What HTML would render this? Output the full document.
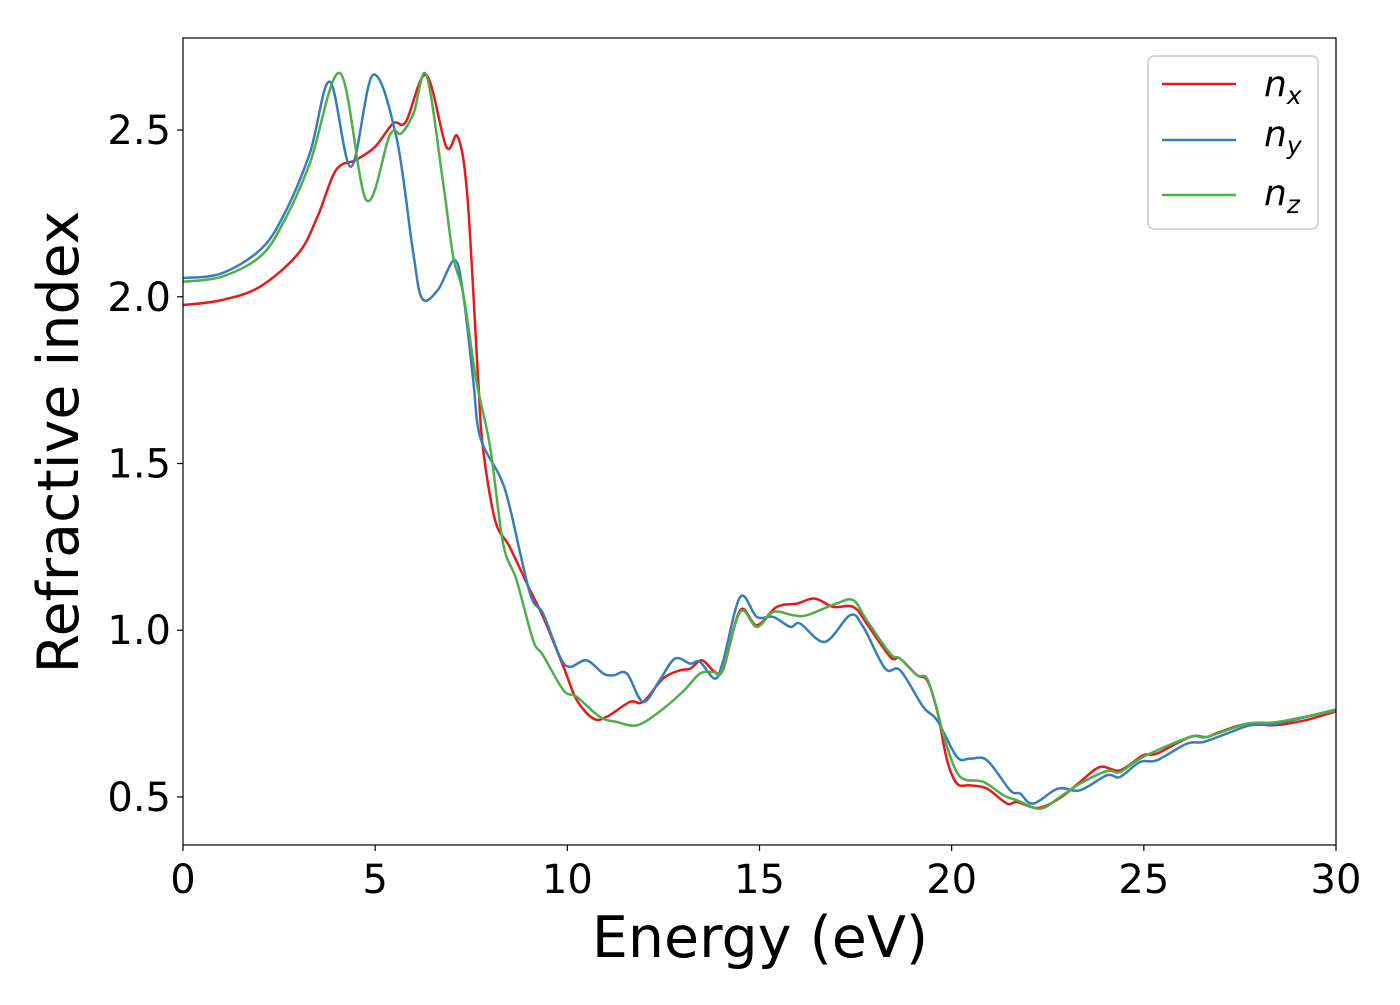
<!DOCTYPE html>
<html><head><meta charset="utf-8"><style>
body{margin:0;background:#fff;}
svg text{font-family:"DejaVu Sans","Liberation Sans",sans-serif;fill:#000;}
</style></head><body>
<svg id="chart" width="1400" height="1000" xmlns="http://www.w3.org/2000/svg">
<rect x="0" y="0" width="1400" height="1000" fill="#fff"/>
<g id="plot"></g>
<g id="axes"></g>
<text x="760" y="957" font-size="57" text-anchor="middle">Energy (eV)</text>
<text transform="translate(78,442) rotate(-90)" font-size="57" text-anchor="middle">Refractive index</text>
<g>
<rect x="1148" y="56" width="170" height="173" rx="6" fill="#fff" stroke="#ccc" stroke-width="1.5"/>
<g><line x1="1162" y1="84" x2="1236" y2="84" stroke="#e41a1c" stroke-width="2.5"/><text x="1264" y="96" font-size="36" font-style="italic">n<tspan font-size="25" dy="8">x</tspan></text></g>
<g><line x1="1162" y1="140" x2="1236" y2="140" stroke="#377eb8" stroke-width="2.5"/><text x="1264" y="146" font-size="36" font-style="italic">n<tspan font-size="25" dy="8">y</tspan></text></g>
<g><line x1="1162" y1="195" x2="1236" y2="195" stroke="#4daf4a" stroke-width="2.5"/><text x="1264" y="205" font-size="36" font-style="italic">n<tspan font-size="25" dy="8">z</tspan></text></g>
</g>
</svg>
<script>
const xTicks=[0,5,10,15,20,25,30];
const yTicks=[0.5,1.0,1.5,2.0,2.5];
const yTickLabels=["0.5","1.0","1.5","2.0","2.5"];
const nxE=[0,1,2,3,3.5,3.98,4.5,5,5.47,5.8,6.33,6.85,7.15,7.4,7.68,7.8,8.12,8.5,9.03,9.37,9.9,10.25,10.68,11.02,11.63,11.97,12.49,12.93,13.2,13.5,13.84,14.06,14.5,14.93,15.45,15.97,16.44,16.92,17.44,17.79,18.4,18.66,19.1,19.36,19.62,19.88,20.14,20.48,20.92,21.44,21.7,22.25,22.82,23.34,23.86,24.38,24.98,25.34,26.2,26.64,26.98,27.7,28.37,29.2,30];
const nxN=[1.975,1.99,2.03,2.13,2.24,2.38,2.41,2.45,2.52,2.525,2.665,2.45,2.48,2.3,1.75,1.55,1.33,1.25,1.12,1.04,0.89,0.79,0.735,0.74,0.785,0.785,0.855,0.88,0.885,0.91,0.875,0.885,1.06,1.015,1.07,1.08,1.095,1.07,1.07,1.02,0.92,0.915,0.865,0.85,0.76,0.61,0.54,0.535,0.525,0.48,0.485,0.467,0.497,0.545,0.59,0.58,0.625,0.63,0.68,0.68,0.695,0.72,0.715,0.73,0.757];
const nyE=[0,1,2,2.6,3.3,3.82,4.37,4.94,5.55,5.98,6.22,6.63,7.07,7.3,7.55,7.73,8.25,8.5,9.03,9.37,9.81,10.07,10.5,10.94,11.2,11.55,11.97,12.4,12.8,13.2,13.45,13.84,14.06,14.5,14.93,15.36,15.8,16.06,16.7,17.36,17.7,18.27,18.66,19.26,19.62,20.14,20.48,20.92,21.52,21.78,22.12,22.77,23.34,24.04,24.38,24.9,25.34,26.12,26.55,27.16,27.77,28.46,30];
const nyN=[2.056,2.07,2.14,2.24,2.43,2.645,2.39,2.665,2.48,2.14,1.995,2.02,2.11,2.0,1.75,1.58,1.46,1.37,1.11,1.05,0.92,0.89,0.91,0.87,0.865,0.87,0.785,0.85,0.915,0.9,0.905,0.855,0.91,1.1,1.04,1.04,1.01,1.02,0.965,1.045,1.01,0.885,0.88,0.77,0.73,0.62,0.615,0.61,0.52,0.51,0.48,0.525,0.52,0.565,0.56,0.605,0.61,0.66,0.665,0.69,0.715,0.72,0.762];
const nzE=[0,1,2,2.6,3.3,4.09,4.77,5.38,5.68,6.0,6.33,6.77,7.03,7.29,7.63,7.99,8.33,8.68,9.11,9.37,9.9,10.25,10.85,11.28,11.8,12.33,13.0,13.45,13.8,14.03,14.5,14.93,15.36,15.88,16.23,17.0,17.44,17.79,18.4,18.66,19.1,19.36,19.62,19.88,20.23,20.83,21.35,21.7,22.3,22.82,23.34,24.04,24.38,24.98,26.2,26.64,27.7,28.5,30];
const nzN=[2.045,2.06,2.12,2.22,2.4,2.67,2.29,2.485,2.49,2.55,2.665,2.34,2.12,2.01,1.75,1.55,1.26,1.15,0.97,0.925,0.82,0.8,0.74,0.725,0.715,0.75,0.815,0.87,0.875,0.88,1.055,1.01,1.055,1.045,1.045,1.08,1.09,1.03,0.93,0.915,0.865,0.855,0.76,0.65,0.56,0.545,0.505,0.49,0.465,0.5,0.54,0.578,0.575,0.62,0.68,0.68,0.72,0.725,0.76];

const X0=183,X1=1336,Y0=38,Y1=845;
const xMin=0,xMax=30,yTop=2.776,yBot=0.356;
function xs(v){return X0+(v-xMin)/(xMax-xMin)*(X1-X0);}
function ys(v){return Y0+(yTop-v)/(yTop-yBot)*(Y1-Y0);}
const NS="http://www.w3.org/2000/svg";
const plot=document.getElementById('plot'),axes=document.getElementById('axes');
function mk(tag,attrs,parent){const e=document.createElementNS(NS,tag);for(const k in attrs)e.setAttribute(k,attrs[k]);parent.appendChild(e);return e;}
function pathFrom(E,N){
  const p=E.map((e,i)=>[xs(e),ys(N[i])]);
  let d="M"+p[0][0].toFixed(1)+","+p[0][1].toFixed(1);
  for(let i=0;i<p.length-1;i++){
    const p0=p[Math.max(0,i-1)],p1=p[i],p2=p[i+1],p3=p[Math.min(p.length-1,i+2)];
    const t=6;
    const c1=[p1[0]+(p2[0]-p0[0])/t,p1[1]+(p2[1]-p0[1])/t];
    const c2=[p2[0]-(p3[0]-p1[0])/t,p2[1]-(p3[1]-p1[1])/t];
    d+="C"+c1[0].toFixed(1)+","+c1[1].toFixed(1)+" "+c2[0].toFixed(1)+","+c2[1].toFixed(1)+" "+p2[0].toFixed(1)+","+p2[1].toFixed(1);
  }
  return d;
}
const clip=mk('clipPath',{id:'clipA'},plot);
mk('rect',{x:X0,y:Y0,width:X1-X0,height:Y1-Y0},clip);
const series=[['series-nx',nxE,nxN,'#e41a1c'],['series-ny',nyE,nyN,'#377eb8'],['series-nz',nzE,nzN,'#4daf4a']];
series.forEach(s=>{
  const el=mk('path',{d:pathFrom(s[1],s[2]),fill:'none',stroke:s[3],'stroke-width':2.5,'clip-path':'url(#clipA)'},plot);
  
  
});
const frame=mk('rect',{x:X0,y:Y0,width:X1-X0,height:Y1-Y0,fill:'none',stroke:'#000','stroke-width':1.2},axes);


xTicks.forEach(v=>{
  const x=xs(v);
  const t=mk('line',{x1:x,y1:Y1,x2:x,y2:Y1+6,stroke:'#000','stroke-width':1.2},axes);
  
  
  const l=mk('text',{x:x,y:Y1+48,'font-size':40,'text-anchor':'middle'},axes);
  l.textContent=String(v);
  
  
});
yTicks.forEach((v,i)=>{
  const y=ys(v);
  const t=mk('line',{x1:X0-6,y1:y,x2:X0,y2:y,stroke:'#000','stroke-width':1.2},axes);
  
  
  const l=mk('text',{x:X0-12,y:y+14,'font-size':40,'text-anchor':'end'},axes);
  l.textContent=yTickLabels[i];
  
  
});
</script>
</body></html>
